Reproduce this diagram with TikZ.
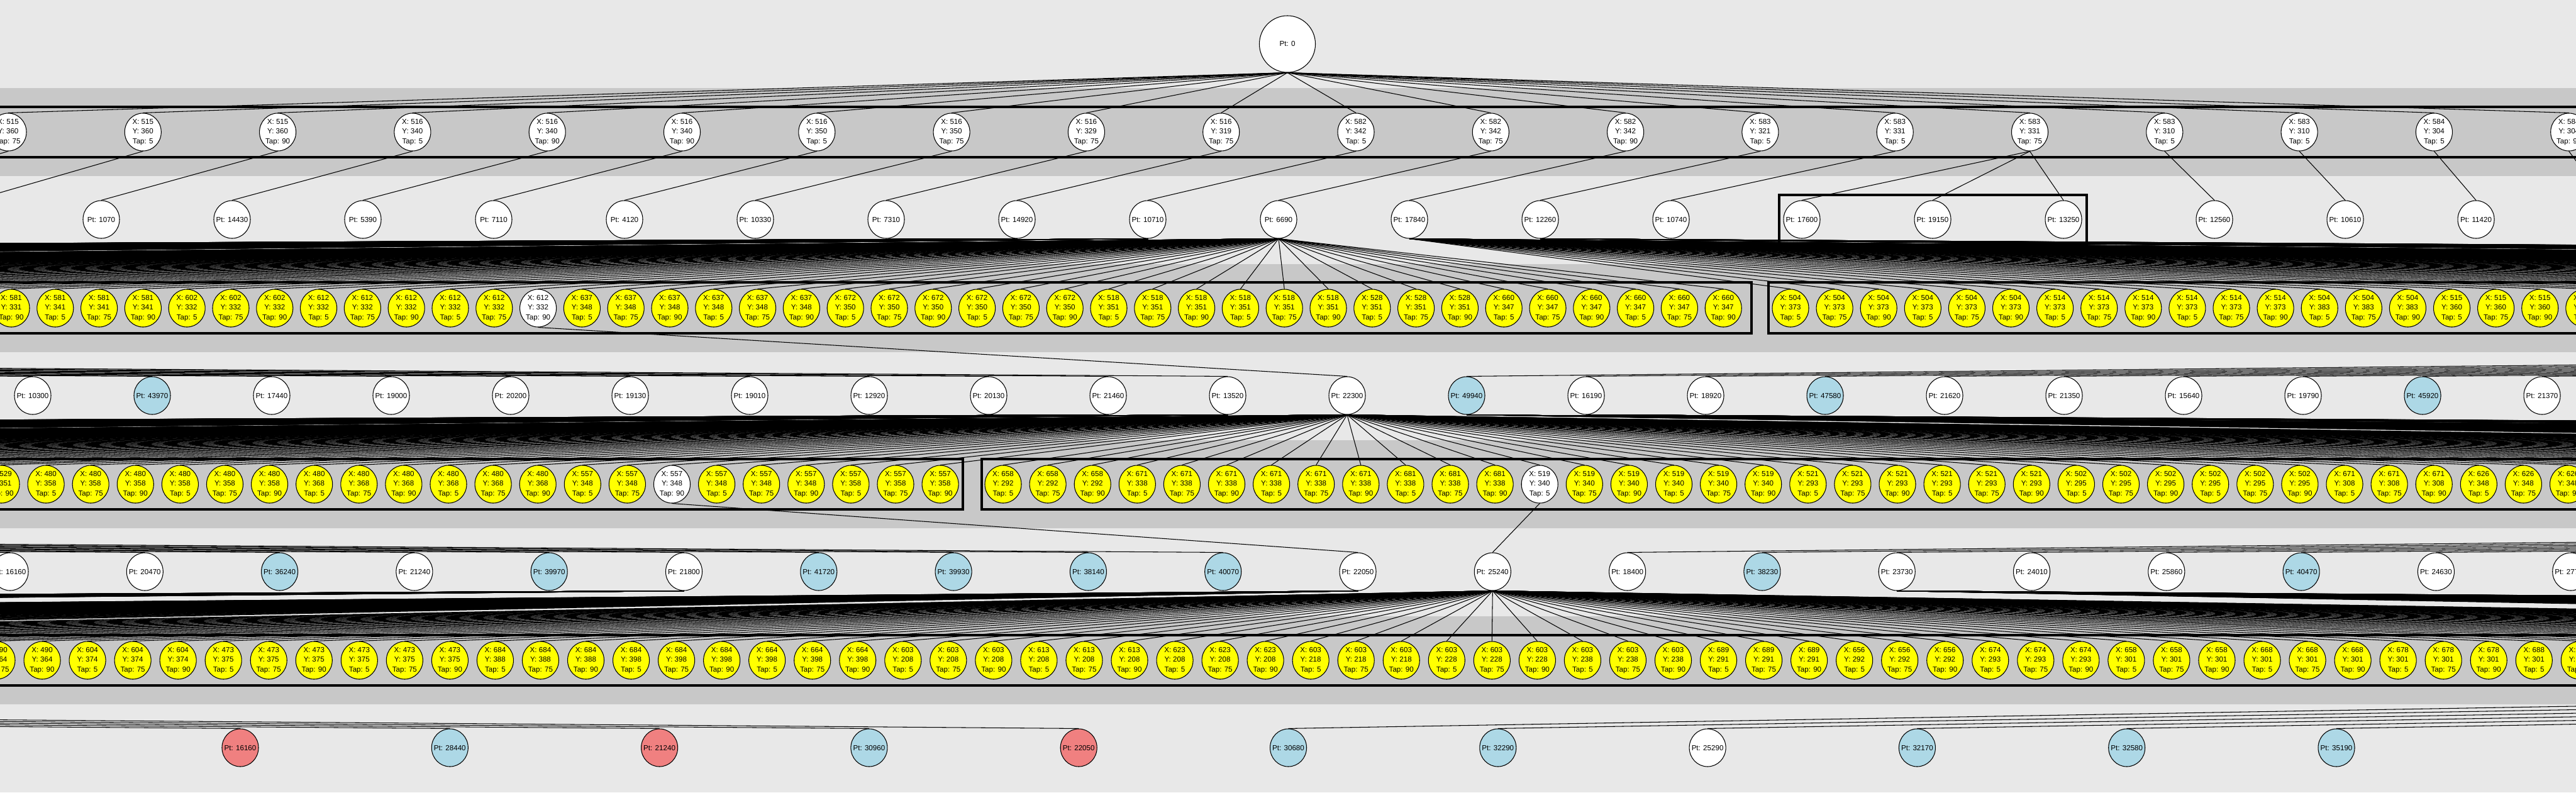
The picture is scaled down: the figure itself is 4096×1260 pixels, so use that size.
\documentclass[tikz,border=0pt]{standalone}
\usepackage{fontspec}
\setmainfont{Liberation Sans}
\usetikzlibrary{shapes.geometric}
\definecolor{bgc}{RGB}{232,232,232}
\definecolor{bandc}{RGB}{200,200,200}
\definecolor{lblue}{RGB}{173,216,230}
\definecolor{lred}{RGB}{240,128,128}
\definecolor{yel}{RGB}{255,255,0}
\pgfdeclarelayer{bglayer}
\pgfdeclarelayer{edgelayer}
\pgfsetlayers{bglayer,edgelayer,main}
\newcommand\trio[3]{\raisebox{-1.1pt}[0pt][0pt]{\makebox[0pt]{\begin{tabular}{@{}c@{}}#1\\#2\\#3\end{tabular}}}}
\newcommand\onel[1]{\makebox[0pt]{#1}}
\tikzset{
 nd/.style={ellipse, draw=black, line width=0.3pt, fill=white, minimum width=0.58cm, minimum height=0.6cm, inner sep=0pt, font=\fontsize{3.3pt}{4.4pt}\selectfont},
 conn/.style={line width=0.3pt, draw=black},
 cbox/.style={line width=1.1pt, draw=black},
}
\begin{document}
\begin{tikzpicture}[x=0.01cm,y=-0.01cm]
\useasboundingbox (0,0) rectangle (4096,1260);
% ---------------- nodes ----------------
\node[nd, minimum width=0.89cm, minimum height=0.9cm] (root) at (2047,70) {\onel{Pt: 0}};
% row 1
\foreach \qa/\qb/\qc [count=\i from 0] in {515/360/75, 515/360/5, 515/360/90, 516/340/5, 516/340/90, 516/340/90, 516/350/5, 516/350/75, 516/329/75, 516/319/75, 582/342/5, 582/342/75, 582/342/90, 583/321/5, 583/331/5, 583/331/75, 583/310/5, 583/310/5, 584/304/5, 584/304/90}
 {\node[nd] (a\i) at ({13+214.3*\i},210) {\trio{X: \qa}{Y: \qb}{Tap: \qc}};}
% row 2
\foreach \lb [count=\i from 0] in {1070,14430,5390,7110,4120,10330,7310,14920,10710,6690,17840,12260,10740,17600,19150,13250}
 {\node[nd] (b\i) at ({161+208*\i},349) {\onel{Pt: \lb}};}
\node[nd] (b16) at (3521,349) {\onel{Pt: 12560}};
\node[nd] (b17) at (3729,349) {\onel{Pt: 10610}};
\node[nd] (b18) at (3937,349) {\onel{Pt: 11420}};
% row 3
\foreach \qa/\qb/\qc [count=\i from 0] in {581/331/90, 581/341/5, 581/341/75, 581/341/90, 602/332/5, 602/332/75, 602/332/90, 612/332/5, 612/332/75, 612/332/90, 612/332/5, 612/332/75, 612/332/90, 637/348/5, 637/348/75, 637/348/90, 637/348/5, 637/348/75, 637/348/90, 672/350/5, 672/350/75, 672/350/90, 672/350/5, 672/350/75, 672/350/90, 518/351/5, 518/351/75, 518/351/90, 518/351/5, 518/351/75, 518/351/90, 528/351/5, 528/351/75, 528/351/90, 660/347/5, 660/347/75, 660/347/90, 660/347/5, 660/347/75, 660/347/90}
 {\ifnum\i=12 \def\cc{white}\else\def\cc{yel}\fi
  \node[nd, fill=\cc] (c\i) at ({18+69.8*\i},490) {\trio{X: \qa}{Y: \qb}{Tap: \qc}};}
\foreach \qa/\qb/\qc [count=\i from 0] in {504/373/5, 504/373/75, 504/373/90, 504/373/5, 504/373/75, 504/373/90, 514/373/5, 514/373/75, 514/373/90, 514/373/5, 514/373/75, 514/373/90, 504/383/5, 504/383/75, 504/383/90, 515/360/5, 515/360/75, 515/360/90, 515/360/5}
 {\node[nd, fill=yel] (r\i) at ({2847+70.1*\i},490) {\trio{X: \qa}{Y: \qb}{Tap: \qc}};}
% row 4
\foreach \lb/\cc [count=\i from 0] in {10300/white, 43970/lblue, 17440/white, 19000/white, 20200/white, 19130/white, 19010/white, 12920/white, 20130/white, 21460/white, 13520/white, 22300/white, 49940/lblue, 16190/white, 18920/white, 47580/lblue, 21620/white, 21350/white, 15640/white, 19790/white, 45920/lblue, 21370/white}
 {\node[nd, fill=\cc] (d\i) at ({52+190*\i},629) {\onel{Pt: \lb}};}
% row 5
\foreach \qa/\qb/\qc [count=\i from 0] in {529/351/90, 480/358/5, 480/358/75, 480/358/90, 480/358/5, 480/358/75, 480/358/90, 480/368/5, 480/368/75, 480/368/90, 480/368/5, 480/368/75, 480/368/90, 557/348/5, 557/348/75, 557/348/90, 557/348/5, 557/348/75, 557/348/90, 557/358/5, 557/358/75, 557/358/90}
 {\ifnum\i=15 \def\cc{white}\else\def\cc{yel}\fi
  \node[nd, fill=\cc] (e\i) at ({2+71.1*\i},770) {\trio{X: \qa}{Y: \qb}{Tap: \qc}};}
\foreach \qa/\qb/\qc [count=\i from 0] in {658/292/5, 658/292/75, 658/292/90, 671/338/5, 671/338/75, 671/338/90, 671/338/5, 671/338/75, 671/338/90, 681/338/5, 681/338/75, 681/338/90, 519/340/5, 519/340/75, 519/340/90, 519/340/5, 519/340/75, 519/340/90, 521/293/5, 521/293/75, 521/293/90, 521/293/5, 521/293/75, 521/293/90, 502/295/5, 502/295/75, 502/295/90, 502/295/5, 502/295/75, 502/295/90, 671/308/5, 671/308/75, 671/308/90, 626/348/5, 626/348/75, 626/348/90}
 {\ifnum\i=12 \def\cc{white}\else\def\cc{yel}\fi
  \node[nd, fill=\cc] (s\i) at ({1595+71.1*\i},770) {\trio{X: \qa}{Y: \qb}{Tap: \qc}};}
% row 6
\foreach \lb/\cc [count=\i from 0] in {16160/white, 20470/white, 36240/lblue, 21240/white, 39970/lblue, 21800/white, 41720/lblue, 39930/lblue, 38140/lblue, 40070/lblue, 22050/white, 25240/white, 18400/white, 38230/lblue, 23730/white, 24010/white, 25860/white, 40470/lblue, 24630/white, 27730/white}
 {\node[nd, fill=\cc] (f\i) at ({16+214.3*\i},909) {\onel{Pt: \lb}};}
% row 7
\foreach \qa/\qb/\qc [count=\i from 0] in {490/364/75, 490/364/90, 604/374/5, 604/374/75, 604/374/90, 473/375/5, 473/375/75, 473/375/90, 473/375/5, 473/375/75, 473/375/90, 684/388/5, 684/388/75, 684/388/90, 684/398/5, 684/398/75, 684/398/90, 664/398/5, 664/398/75, 664/398/90, 603/208/5, 603/208/75, 603/208/90, 613/208/5, 613/208/75, 613/208/90, 623/208/5, 623/208/75, 623/208/90, 603/218/5, 603/218/75, 603/218/90, 603/228/5, 603/228/75, 603/228/90, 603/238/5, 603/238/75, 603/238/90, 689/291/5, 689/291/75, 689/291/90, 656/292/5, 656/292/75, 656/292/90, 674/293/5, 674/293/75, 674/293/90, 658/301/5, 658/301/75, 658/301/90, 668/301/5, 668/301/75, 668/301/90, 678/301/5, 678/301/75, 678/301/90, 688/301/5, 688/301/75}
 {\node[nd, fill=yel] (g\i) at ({-5+72.04*\i},1050) {\trio{X: \qa}{Y: \qb}{Tap: \qc}};}
% row 8
\foreach \lb/\cc [count=\i from 0] in {16160/lred, 28440/lblue, 21240/lred, 30960/lblue, 22050/lred, 30680/lblue, 32290/lblue, 25290/white, 32170/lblue, 32580/lblue, 35190/lblue}
 {\node[nd, fill=\cc] (h\i) at ({382+333.3*\i},1189) {\onel{Pt: \lb}};}
% ---------------- background ----------------
\begin{pgfonlayer}{bglayer}
\fill[bgc] (0,0) rectangle (4096,1260);
\foreach \yb in {140,420,700,980} {\fill[bandc] (0,\yb) rectangle (4096,\yb+140);}
\draw[cbox] (-100,170) rectangle (4200,250);
\draw[cbox] (2829,310) rectangle (3318,389);
\draw[cbox] (-100,449) rectangle (2785,530);
\draw[cbox] (2812,449) rectangle (4200,530);
\draw[cbox] (-100,730) rectangle (1531,810);
\draw[cbox] (1561,730) rectangle (4200,810);
\draw[cbox] (-100,1010) rectangle (4200,1090);
\end{pgfonlayer}
% ---------------- connectors ----------------
\begin{pgfonlayer}{edgelayer}
\foreach \i in {0,...,19} {\draw[conn] (root.south) -- (a\i.north);}
\foreach \j in {0,...,12} {\pgfmathtruncatemacro\k{\j+2}\draw[conn] (a\k.south) -- (b\j.north);}
\foreach \j in {13,14,15} {\draw[conn] (a15.south) -- (b\j.north);}
\draw[conn] (a16.south) -- (b16.north);
\draw[conn] (a17.south) -- (b17.north);
\draw[conn] (a18.south) -- (b18.north);
\coordinate (oa0) at (-262,320);
\coordinate (oa1) at (-47,320);
\coordinate (oa2) at (4144,320);
\draw[conn] (a0.south) -- (oa0);
\draw[conn] (a1.south) -- (oa1);
\draw[conn] (a19.south) -- (oa2);
% row 2 -> row 3
\foreach \i in {0,...,39} {\draw[conn] (b9.south) -- (c\i.north);}
\foreach \i in {0,...,18} {\draw[conn] (b10.south) -- (r\i.north);}
\foreach \i in {1,...,80} {\coordinate (cl\i) at ({18-69.8*\i},460); \draw[conn] (b9.south) -- (cl\i);}
\foreach \i in {81,...,160} {\coordinate (cl\i) at ({18-69.8*\i},460); \draw[conn] (b8.south) -- (cl\i);}
\foreach \i in {161,...,225} {\coordinate (cl\i) at ({18-69.8*\i},460); \draw[conn] (b7.south) -- (cl\i);}
\foreach \i in {19,...,110} {\coordinate (cr\i) at ({2847+70.1*\i},460); \draw[conn] (b10.south) -- (cr\i);}
\foreach \i in {111,...,183} {\coordinate (cr\i) at ({2847+70.1*\i},460); \draw[conn] (b11.south) -- (cr\i);}
% into row 4
\draw[conn] (c12.south) -- (d11.north);
\foreach \k in {0,...,10} {\coordinate (ul\k) at ({-13000+300*\k},520); \draw[conn] (ul\k) -- (d\k.north);}
\foreach \k in {12,...,21} {\coordinate (ur\k) at ({10000+300*(\k-12)},520); \draw[conn] (ur\k) -- (d\k.north);}
% row 4 -> row 5
\foreach \i in {0,...,21} {\draw[conn] (d11.south) -- (e\i.north);}
\foreach \i in {0,...,35} {\draw[conn] (d11.south) -- (s\i.north);}
\foreach \i in {1,...,80} {\coordinate (el\i) at ({2-71.1*\i},740); \draw[conn] (d11.south) -- (el\i);}
\foreach \i in {81,...,160} {\coordinate (el\i) at ({2-71.1*\i},740); \draw[conn] (d10.south) -- (el\i);}
\foreach \i in {161,...,220} {\coordinate (el\i) at ({2-71.1*\i},740); \draw[conn] (d9.south) -- (el\i);}
\foreach \i in {36,...,80} {\coordinate (sr\i) at ({1595+71.1*\i},740); \draw[conn] (d11.south) -- (sr\i);}
\foreach \i in {81,...,150} {\coordinate (sr\i) at ({1595+71.1*\i},740); \draw[conn] (d12.south) -- (sr\i);}
\foreach \i in {151,...,200} {\coordinate (sr\i) at ({1595+71.1*\i},740); \draw[conn] (d13.south) -- (sr\i);}
% into row 6
\draw[conn] (e15.south) -- (f10.north);
\draw[conn] (s12.south) -- (f11.north);
\foreach \k in {0,...,9} {\coordinate (vl\k) at ({-11000+300*\k},810); \draw[conn] (vl\k) -- (f\k.north);}
\foreach \k in {12,...,19} {\coordinate (vr\k) at ({9000+300*(\k-12)},810); \draw[conn] (vr\k) -- (f\k.north);}
% row 6 -> row 7
\foreach \i in {0,...,57} {\draw[conn] (f11.south) -- (g\i.north);}
\foreach \i in {1,...,21} {\coordinate (gl\i) at ({-5-72.04*\i},1020); \draw[conn] (f11.south) -- (gl\i);}
\foreach \i in {22,...,100} {\coordinate (gl\i) at ({-5-72.04*\i},1020); \draw[conn] (f10.south) -- (gl\i);}
\foreach \i in {101,...,210} {\coordinate (gl\i) at ({-5-72.04*\i},1020); \draw[conn] (f5.south) -- (gl\i);}
\foreach \i in {58,...,100} {\coordinate (gr\i) at ({-5+72.04*\i},1020); \draw[conn] (f11.south) -- (gr\i);}
\foreach \i in {101,...,200} {\coordinate (gr\i) at ({-5+72.04*\i},1020); \draw[conn] (f14.south) -- (gr\i);}
% into row 8
\foreach \k in {0,...,4} {\coordinate (wl\k) at ({-8000+300*\k},1090); \draw[conn] (wl\k) -- (h\k.north);}
\foreach \k in {5,...,10} {\coordinate (wr\k) at ({6000+300*(\k-5)},1090); \draw[conn] (wr\k) -- (h\k.north);}
\end{pgfonlayer}
\end{tikzpicture}
\end{document}
